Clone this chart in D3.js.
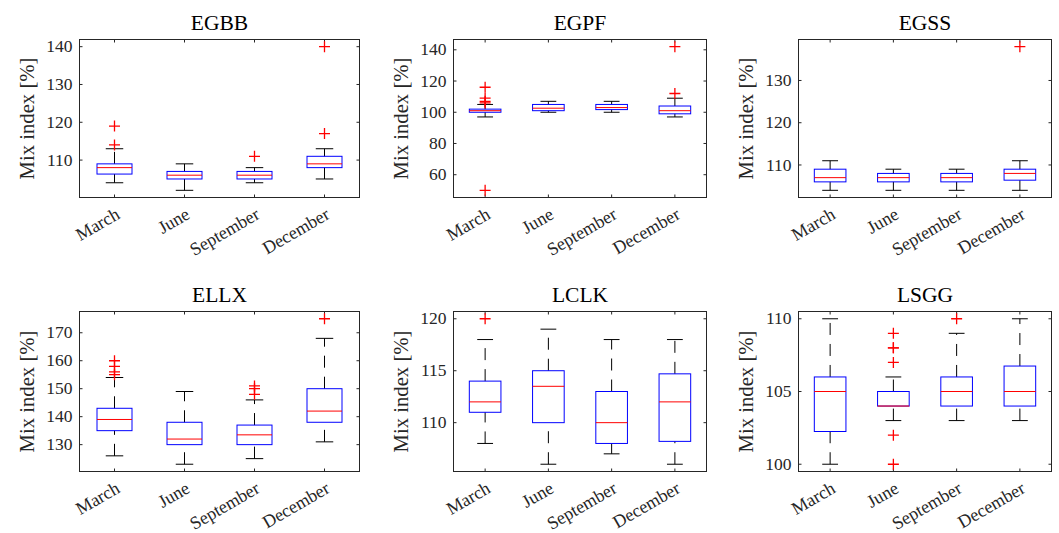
<!DOCTYPE html>
<html>
<head>
<meta charset="utf-8">
<script src="https://cdn.jsdelivr.net/npm/d3@7"></script>
<style>
    body { margin: 0; background: #fff; }
    svg text { font-family: "Liberation Serif", "Times New Roman", serif; }
</style>
</head>
<body>
<svg width="1059" height="533"></svg>
<script>
/****** DATA ******/

var months = ["March", "June", "September", "December"];
var stations = ["EGBB", "EGPF", "EGSS", "ELLX", "LCLK", "LSGG"];

// one row per month: [lower whisker, q1, median, q3, upper whisker]
var egbbStats = [[104, 106.3, 108, 109, 113], [102, 105, 106, 107, 109], [104, 105, 106, 107, 108], [105, 108, 109, 111, 113]];
var egbbOutliers = [[114, 119], [], [111], [117, 140]];
var egbbTicks = [110, 120, 130, 140];

var egpfStats = [[97, 100, 101, 102, 105], [100, 101, 102.6, 105, 107], [100, 101.7, 103, 105, 107], [97, 99, 101, 104, 109]];
var egpfOutliers = [[50, 106, 107, 109, 116], [], [], [112, 142]];
var egpfTicks = [60, 80, 100, 120, 140];

var egssStats = [[104, 106, 107, 109, 111], [104, 106, 107, 108, 109], [104, 106, 107, 108, 109], [104, 106.4, 108, 109, 111]];
var egssOutliers = [[], [], [], [138]];
var egssTicks = [110, 120, 130];

var ellxStats = [[126, 135, 139, 143, 154], [123, 130, 132, 138, 149], [125, 130, 133.5, 137, 146], [131, 138, 142, 150, 168]];
var ellxOutliers = [[155, 156, 158, 160], [], [148, 150, 151], [175]];
var ellxTicks = [130, 140, 150, 160, 170];

var lclkStats = [[108, 111, 112, 114, 118], [106, 110, 113.5, 115, 119], [107, 108, 110, 113, 118], [106, 108.2, 112, 114.7, 118]];
var lclkOutliers = [[120], [], [], []];
var lclkTicks = [110, 115, 120];

var lsggStats = [[100, 102.25, 105, 106, 110], [103, 104, 104, 105, 106], [103, 104, 105, 106, 109], [103, 104, 105, 106.75, 110]];
var lsggOutliers = [[], [100, 102, 107, 108, 108, 109], [110], []];
var lsggTicks = [100, 105, 110];

/****** LAYOUT ******/

var svg = d3.select("svg");
var cols = [{left: 79.5, right: 359.5}, {left: 453.5, right: 706.5}, {left: 798.5, right: 1051.5}];
var rows = [{top: 39.5, bottom: 197.5}, {top: 311.5, bottom: 471.5}];
var axisColor = "#262626";
var serif = '"Liberation Serif", "Times New Roman", serif';

var panels = [
    {stats: egbbStats, outliers: egbbOutliers, ticks: egbbTicks},
    {stats: egpfStats, outliers: egpfOutliers, ticks: egpfTicks},
    {stats: egssStats, outliers: egssOutliers, ticks: egssTicks},
    {stats: ellxStats, outliers: ellxOutliers, ticks: ellxTicks},
    {stats: lclkStats, outliers: lclkOutliers, ticks: lclkTicks},
    {stats: lsggStats, outliers: lsggOutliers, ticks: lsggTicks}
];

panels.forEach(function(p, i) {
    drawPanel(stations[i], p, cols[i % 3], rows[Math.floor(i / 3)]);
});

function drawPanel(name, p, c, r) {
    // y limits padded like matlab's auto limits
    var all = d3.merge(p.stats.concat(p.outliers));
    var lo = d3.min(all), hi = d3.max(all), pad = (hi - lo) * 0.05;
    var y = d3.scaleLinear().domain([lo - pad, hi + pad]).range([r.bottom, r.top]);
    var x = d3.scalePoint().domain(months).range([c.left, c.right]).padding(0.5);
    var step = x.step();

    var g = svg.append("g");

    // axes, ticks pointing inward on all four sides
    var left = g.append("g")
        .attr("transform", "translate(" + c.left + ",0)")
        .call(d3.axisLeft(y).tickValues(p.ticks).tickSizeInner(-3).tickSizeOuter(0).tickPadding(7).offset(0));
    g.append("g")
        .attr("transform", "translate(" + c.right + ",0)")
        .call(d3.axisRight(y).tickValues(p.ticks).tickSizeInner(-3).tickSizeOuter(0).tickFormat("").offset(0));
    g.append("g")
        .attr("transform", "translate(0," + r.top + ")")
        .call(d3.axisTop(x).tickSizeInner(-3).tickSizeOuter(0).tickFormat("").offset(0));
    var bottom = g.append("g")
        .attr("transform", "translate(0," + r.bottom + ")")
        .call(d3.axisBottom(x).tickSizeInner(-3).tickSizeOuter(0).offset(0));

    g.selectAll(".domain").remove();
    g.selectAll(".tick line").attr("stroke", axisColor);

    left.selectAll("text")
        .attr("font-family", null)
        .style("font-family", serif)
        .style("font-size", "17.5px")
        .attr("fill", axisColor);

    bottom.selectAll("text")
        .attr("font-family", null)
        .style("font-family", serif)
        .style("font-size", "18px")
        .attr("fill", axisColor)
        .attr("text-anchor", "end")
        .attr("x", 0)
        .attr("y", 0)
        .attr("dy", "0.72em")
        .attr("transform", "translate(0,9) rotate(-30)");

    // frame
    g.append("rect")
        .attr("x", c.left)
        .attr("y", r.top)
        .attr("width", c.right - c.left)
        .attr("height", r.bottom - r.top)
        .attr("fill", "none")
        .attr("stroke", axisColor)
        .attr("stroke-width", 1);

    // boxes
    var box = g.selectAll("g.box")
        .data(p.stats)
        .enter()
        .append("g")
        .attr("class", "box");

    // whiskers: lower drawn from the cap up, upper from the box up
    box.append("line")
        .attr("x1", function(d, j) { return x(months[j]); })
        .attr("x2", function(d, j) { return x(months[j]); })
        .attr("y1", function(d) { return y(d[0]); })
        .attr("y2", function(d) { return y(d[1]); })
        .attr("stroke", "#000")
        .attr("stroke-dasharray", "12,9");
    box.append("line")
        .attr("x1", function(d, j) { return x(months[j]); })
        .attr("x2", function(d, j) { return x(months[j]); })
        .attr("y1", function(d) { return y(d[3]); })
        .attr("y2", function(d) { return y(d[4]); })
        .attr("stroke", "#000")
        .attr("stroke-dasharray", "12,9");

    // whisker caps
    [0, 4].forEach(function(k) {
        box.append("line")
            .attr("x1", function(d, j) { return x(months[j]) - step * 0.125; })
            .attr("x2", function(d, j) { return x(months[j]) + step * 0.125; })
            .attr("y1", function(d) { return y(d[k]); })
            .attr("y2", function(d) { return y(d[k]); })
            .attr("stroke", "#000");
    });

    box.append("rect")
        .attr("x", function(d, j) { return x(months[j]) - step * 0.25; })
        .attr("y", function(d) { return y(d[3]); })
        .attr("width", step * 0.5)
        .attr("height", function(d) { return y(d[1]) - y(d[3]); })
        .attr("fill", "none")
        .attr("stroke", "#0000ff");

    box.append("line")
        .attr("x1", function(d, j) { return x(months[j]) - step * 0.25; })
        .attr("x2", function(d, j) { return x(months[j]) + step * 0.25; })
        .attr("y1", function(d) { return y(d[2]); })
        .attr("y2", function(d) { return y(d[2]); })
        .attr("stroke", "#ff0000");

    // outliers as red plus signs
    p.outliers.forEach(function(list, j) {
        g.selectAll(null)
            .data(list)
            .enter()
            .append("path")
            .attr("transform", function(d) { return "translate(" + x(months[j]) + "," + y(d) + ")"; })
            .attr("d", "M-5.5,0H5.5M0,-5.5V5.5")
            .attr("stroke", "#ff0000")
            .attr("stroke-width", 1.3);
    });

    // labels
    g.append("text")
        .attr("x", (c.left + c.right) / 2)
        .attr("y", r.top - 10)
        .attr("text-anchor", "middle")
        .style("font-family", serif)
        .style("font-size", "21.5px")
        .attr("fill", "#000")
        .text(name);

    g.append("text")
        .attr("transform", "translate(" + (c.left - 53) + "," + ((r.top + r.bottom) / 2) + ") rotate(-90)")
        .attr("text-anchor", "middle")
        .attr("dominant-baseline", "central")
        .style("font-family", serif)
        .style("font-size", "20.7px")
        .attr("fill", axisColor)
        .text("Mix index [%]");
}
</script>
</body>
</html>
